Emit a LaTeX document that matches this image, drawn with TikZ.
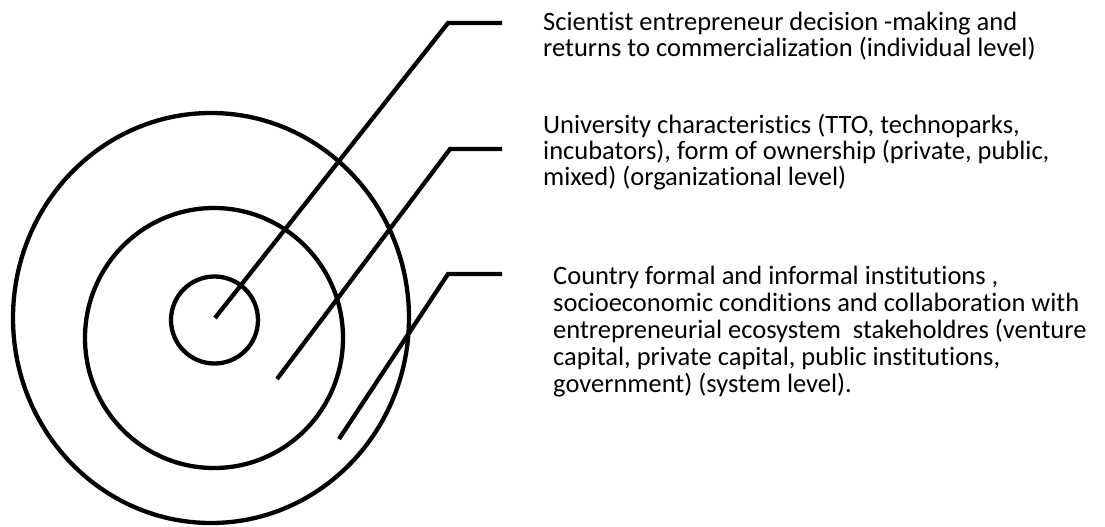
\documentclass[tikz,border=0pt]{standalone}
\usepackage{fontspec}
\setmainfont{Carlito}[Ligatures=NoCommon]
\usetikzlibrary{positioning}
\tikzset{%
	ring/.style     = {draw, line width=4.3pt}, % circles
	leader/.style   = {draw, line width=4.3pt, line join=miter}, % pointer lines
	levtext/.style  = {align=left, anchor=north west, inner sep=0pt, font=\fontsize{26.5}{26}\selectfont},
	waypoint/.style = {coordinate},
}
\begin{document}
\begin{tikzpicture}[x=1pt,y=-1pt]
	\useasboundingbox (0,0) rectangle (1105,527);
	% rings
	\draw[ring] (211,318) ellipse [x radius=198, y radius=205];
	\draw[ring] (214,338) ellipse [x radius=129, y radius=130];
	\draw[ring] (214.5,320) circle [radius=43.5];
	
	\node [waypoint] (p1) at (215,318) {};
	\node [waypoint] (k1) at (448,23) {};
	\node [waypoint] (q1) at (502,23) {};
	\node [waypoint] (p2) at (277,379) {};
	\node [waypoint] (k2) at (450,149) {};
	\node [waypoint] (q2) at (502,149) {};
	\node [waypoint] (p3) at (339,439) {};
	\node [waypoint] (k3) at (448,274) {};
	\node [waypoint] (q3) at (502,274) {};
	
	\node [levtext] (indiv) at (543,12) {Scientist entrepreneur decision -making and\\returns to commercialization (individual level)};
	\node [levtext] (orgn) at (543,114) {University characteristics (TTO, technoparks,\\incubators), form of ownership (private, public,\\mixed) (organizational level)};
	\node [levtext, font=\fontsize{26.5}{27}\selectfont] (syst) at (553,266) {Country formal and informal institutions ,\\socioeconomic conditions and collaboration with\\entrepreneurial ecosystem~ stakeholdres (venture\\capital, private capital, public institutions,\\government) (system level).};
	
	\draw[leader] (p1) -- (k1) -- (q1);
	\draw[leader] (p2) -- (k2) -- (q2);
	\draw[leader] (p3) -- (k3) -- (q3);
\end{tikzpicture}
\end{document}
